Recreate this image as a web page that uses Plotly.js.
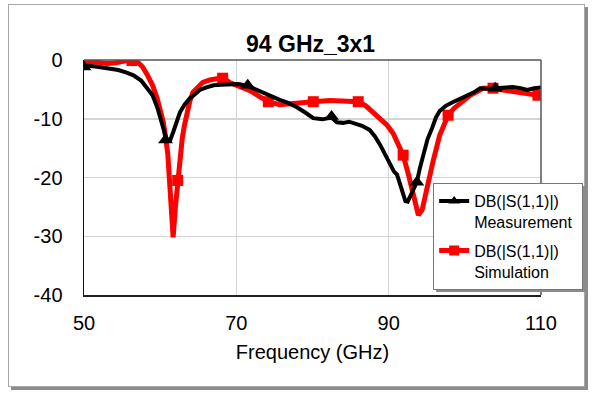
<!DOCTYPE html>
<html>
<head>
<meta charset="utf-8">
<script src="https://cdn.plot.ly/plotly-3.0.1.min.js"></script>
<style>
html,body{margin:0;padding:0;background:#fff;}
#frame{position:absolute;left:8px;top:4px;width:575px;height:381px;border:1px solid #a8a8a8;box-shadow:3px 3px 0 #8c8c8c;background:#fff;}
#chart{position:absolute;left:0;top:0;width:595px;height:394px;}
</style>
</head>
<body>
<div id="frame"></div>
<div id="chart"></div>
<script>
// Measurement DB(|S(1,1)|)
const measFreq = [50,50.5,51.5,52.5,53.5,54.5,55.5,56.5,57.5,58.3,59,59.6,60.1,60.5,60.9,61.3,61.7,62.2,62.6,63.2,63.9,64.5,65.2,66,67,68,69.2,70.3,71.5,72.5,73.5,74.5,75.7,76.8,77.9,79,80.1,81.3,82.5,83.2,84,84.8,85.6,86.5,87.5,88.2,88.9,89.6,90.2,90.7,91.1,91.5,91.9,92.2,92.5,92.9,93.3,93.7,94.1,94.5,95.1,95.7,96.2,96.7,97.5,98.4,99.3,100.3,101.2,102,103,104,105.2,106.3,107.3,108.2,109.1,110];
const measDB = [-1.2,-1.0,-1.1,-1.3,-1.4,-1.7,-2.1,-2.6,-3.5,-4.7,-6.0,-8.0,-10.0,-12.0,-13.8,-13.7,-12.3,-10.5,-8.9,-7.6,-6.5,-5.9,-5.1,-4.7,-4.3,-4.2,-4.2,-4.1,-4.4,-5.0,-5.6,-6.1,-6.8,-7.3,-8.0,-8.9,-9.9,-10.1,-9.8,-10.6,-10.7,-10.5,-10.8,-11.2,-11.9,-13.0,-14.5,-16.3,-17.9,-19.0,-19.5,-21.2,-23.2,-24.0,-24.1,-23.0,-22.0,-20.8,-18.4,-16.2,-13.5,-11.6,-9.8,-8.7,-7.8,-7.2,-6.7,-6.0,-5.5,-4.8,-4.9,-4.8,-4.7,-4.6,-4.8,-5.1,-4.8,-4.7];
const measMarkFreq = [50,60.7,71.5,82.5,93.7,104];
const measMarkDB = [-1.2,-13.6,-4.3,-9.6,-20.8,-4.8];

// Simulation DB(|S(1,1)|)
const simFreq = [50,51,52,53,54,55,56,57,57.7,58.3,59,59.6,60,60.4,60.7,61,61.3,61.7,62,62.3,62.6,62.9,63.2,63.5,63.9,64.3,65,65.6,66.5,67.5,68.3,69.2,70.3,71.8,73,74.2,75.7,77,78.5,80.1,82.3,84.5,86,87,88,89,89.8,90.6,91.3,91.9,92.6,93.2,93.9,94.4,94.8,95.3,95.8,96.7,97.8,98.6,99.4,100.7,102.4,103.7,105,106.3,108,109.6,110];
const simDB = [-0.1,-0.3,-0.5,-0.6,-0.5,-0.2,0,-0.3,-1.2,-2.5,-4.3,-6.5,-8.3,-10.5,-13,-16,-22,-30.2,-25,-20.5,-16,-13.3,-11,-8.9,-7,-5.5,-4.5,-3.8,-3.4,-3.2,-3.0,-3.9,-4.4,-5.2,-6.2,-7.1,-7.6,-7.4,-7.2,-7.1,-6.9,-6.9,-7.1,-7.8,-8.9,-10.0,-11.1,-12.5,-14.3,-16.2,-19.5,-23.0,-26.4,-25.5,-23,-20.3,-17.4,-12.8,-9.4,-8.2,-7.3,-6.0,-4.8,-4.8,-5.1,-5.4,-5.7,-6.0,-6.0];
const simMarkFreq = [50.4,56.3,62.3,68.2,74.2,80.1,86.0,91.9,97.8,103.7,109.6];
const simMarkDB = [-0.2,-0.1,-20.5,-3.1,-7.1,-7.1,-7.1,-16.2,-9.4,-4.8,-6.0];

const xTicks = [50,70,90,110];
const yTicks = [-40,-30,-20,-10,0];
const legendNames = ['DB(|S(1,1)|)<br>Measurement&nbsp;','DB(|S(1,1)|)<br>Simulation'];

const traces = [
  {x: simFreq, y: simDB, mode:'lines', line:{color:'#ff0000', width:5}, showlegend:false, hoverinfo:'skip'},
  {x: simMarkFreq, y: simMarkDB, mode:'markers', marker:{symbol:'square', size:11, color:'#ff0000'}, showlegend:false},
  {x: measFreq, y: measDB, mode:'lines', line:{color:'#000000', width:4}, showlegend:false},
  {x: measMarkFreq, y: measMarkDB, mode:'markers', marker:{symbol:'triangle-up', size:13, color:'#000000'}, showlegend:false},
  {x:[null], y:[null], mode:'lines+markers', name: legendNames[0], legendgroup:'m', line:{color:'#000', width:4}, marker:{symbol:'triangle-up', size:10, color:'#000'}},
  {x:[null], y:[null], mode:'lines+markers', name: legendNames[1], legendgroup:'s', line:{color:'#ff0000', width:5}, marker:{symbol:'square', size:10, color:'#ff0000'}}
];

const layout = {
  width:595, height:394,
  margin:{l:84, r:54, t:60, b:99, autoexpand:false},
  paper_bgcolor:'rgba(0,0,0,0)',
  plot_bgcolor:'#ffffff',
  font:{family:'Liberation Sans, Arial, sans-serif', color:'#000'},
  title:{text:'<b>94 GHz_3x1</b>', font:{size:23, color:'#000'}, x:0.522, xanchor:'center', y:0.888, yanchor:'middle'},
  xaxis:{range:[50,110], tickvals:xTicks, ticktext:xTicks.map(String), showgrid:true, gridcolor:'#d4d4d4', gridwidth:1.5,
         showline:true, linecolor:'#222', linewidth:2, zeroline:false, ticks:'', ticklabelstandoff:9,
         tickfont:{size:20}, title:{text:'Frequency (GHz)', font:{size:20}, standoff:12}},
  yaxis:{range:[-40,0], tickvals:yTicks, ticktext:yTicks.map(String), showgrid:true, gridcolor:'#d4d4d4', gridwidth:1.5,
         showline:true, linecolor:'#111', linewidth:1.5, zeroline:false, ticks:'', ticklabelstandoff:16,
         tickfont:{size:20}},
  shapes:[
    {type:'line', xref:'paper', yref:'paper', x0:0, x1:1, y0:1, y1:1, line:{color:'#555', width:1.5}},
    {type:'line', xref:'paper', yref:'paper', x0:1, x1:1, y0:0, y1:1, line:{color:'#555', width:1.5}},
    {type:'rect', xref:'paper', yref:'paper', x0:0.7702, x1:1.0985, y0:0.0128, y1:0.4638, fillcolor:'#8c8c8c', line:{width:0}, layer:'above'}
  ],
  legend:{x:0.764, y:0.4766, xanchor:'left', yanchor:'top', bgcolor:'#ffffff', bordercolor:'#777', borderwidth:1,
          font:{size:16, color:'#000'}, valign:'top', tracegroupgap:5},
  showlegend:true
};

Plotly.newPlot('chart', traces, layout, {displayModeBar:false, staticPlot:true});
</script>
</body>
</html>
